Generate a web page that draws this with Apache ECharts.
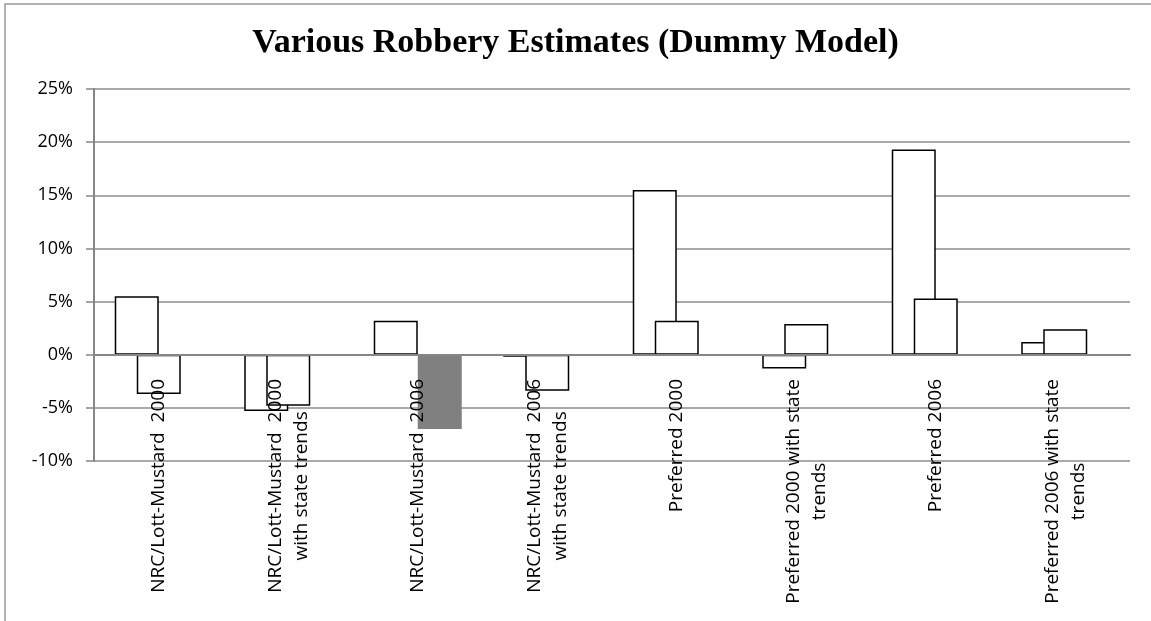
<!DOCTYPE html>
<html>
<head>
<meta charset="utf-8">
<script src="https://cdn.jsdelivr.net/npm/echarts@6/dist/echarts.min.js"></script>
<style>
html, body { margin: 0; padding: 0; background: #fff; }
#chart { width: 1151px; height: 621px; }
</style>
</head>
<body>
<div id="chart"></div>
<script>
var dom = document.getElementById("chart");
var myChart = echarts.init(dom);
var option = null;

var categories = ['NRC/Lott-Mustard  2000', 'NRC/Lott-Mustard  2000\nwith state trends',
        'NRC/Lott-Mustard  2006', 'NRC/Lott-Mustard  2006\nwith state trends',
        'Preferred 2000', 'Preferred 2000 with state\ntrends',
        'Preferred 2006', 'Preferred 2006 with state\ntrends'];

// percent values
var seriesA = [5.5, -5.3, 3.2, -0.2, 15.5, -1.3, 19.3, 1.2];
var seriesB = [-3.7, -4.8, '-', -3.4, 3.2, 2.9, 5.3, 2.4];
var seriesC = ['-', '-', -7.0, '-', '-', '-', '-', '-'];

var yTicks = [-10, -5, 0, 5, 10, 15, 20, 25];

var labelFont = 'Open Sans';
var white = { color: '#fff', borderColor: '#000', borderWidth: 1.5 };

option = {
    backgroundColor: '#fff',
    animation: false,
    title: {
        text: 'Various Robbery Estimates (Dummy Model)',
        left: 'center',
        top: 26,
        padding: 0,
        textStyle: {
            fontFamily: 'Liberation Serif',
            fontWeight: 'bold',
            fontSize: 34,
            color: '#000'
        }
    },
    graphic: [{
        type: 'rect',
        shape: { x: 5, y: 4, width: 1300, height: 800 },
        style: { fill: 'none', stroke: '#999', lineWidth: 1.5 },
        silent: true
    }],
    grid: {
        left: 94,
        right: 21,
        top: 89,
        bottom: 160,
        outerBoundsMode: 'none'
    },
    xAxis: {
        type: 'category',
        data: categories,
        z: 5,
        axisLine: {
            onZero: true,
            lineStyle: { color: '#868686', width: 2 }
        },
        axisTick: {
            length: 5,
            lineStyle: { color: '#868686', width: 1.5 }
        },
        axisLabel: {
            interval: 0,
            rotate: 90,
            // labels hang from the zero line, not from the grid bottom
            margin: -82,
            color: '#000',
            formatter: function (v) {
                return v.split('\n').map(function (s) {
                    return '{c|' + s + '}';
                }).join('\n');
            },
            rich: {
                c: {
                    align: 'center',
                    fontFamily: labelFont,
                    fontSize: 19,
                    lineHeight: 26,
                    color: '#000'
                }
            }
        }
    },
    yAxis: {
        type: 'value',
        min: yTicks[0],
        max: yTicks[yTicks.length - 1],
        interval: 5,
        axisLine: {
            show: true,
            lineStyle: { color: '#868686', width: 2 }
        },
        axisTick: {
            show: true,
            length: 8,
            lineStyle: { color: '#868686', width: 1.5 }
        },
        axisLabel: {
            margin: 21,
            color: '#000',
            fontFamily: labelFont,
            fontSize: 18,
            formatter: function (v) { return v + '%'; }
        },
        splitLine: {
            lineStyle: { color: '#8c8c8c', width: 1.5 }
        }
    },
    series: [{
        name: 'Estimate',
        type: 'bar',
        data: seriesA,
        barWidth: 44,
        barGap: '-50%',
        itemStyle: white
    }, {
        name: 'Estimate 2',
        type: 'bar',
        data: seriesB,
        barWidth: 44,
        barGap: '-50%',
        itemStyle: white
    }, {
        name: 'Highlighted',
        type: 'bar',
        data: seriesC,
        barWidth: 44,
        barGap: '-50%',
        itemStyle: { color: '#808080' }
    }]
};

if (option && typeof option === "object") {
    myChart.setOption(option, true);
}
</script>
</body>
</html>
